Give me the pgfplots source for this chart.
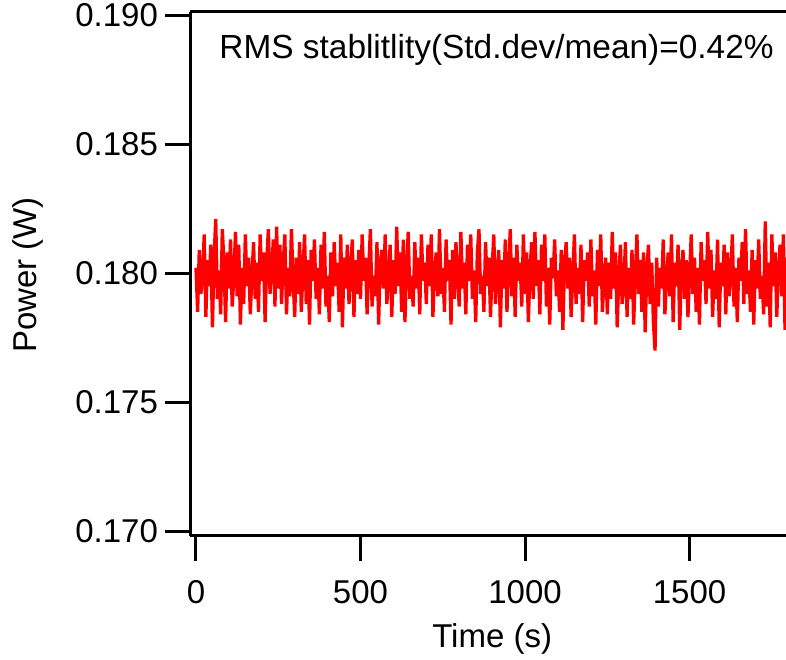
\documentclass[border=0pt]{standalone}
\usepackage{fontspec}
\setmainfont{Liberation Sans}
\usepackage{pgfplots}
\pgfplotsset{compat=1.18}
\newcommand{\lbl}{\fontsize{16.5}{20}\selectfont}
\begin{document}
\begin{tikzpicture}
\begin{axis}[
  scale only axis,
  width=298pt, height=262pt,
  xmin=-18.2, xmax=1793,
  ymin=0.16981, ymax=0.19012,
  axis x line*=bottom, axis y line*=left,
  axis line style={-, line width=1.5pt},
  every tick/.style={line width=1.5pt, black},
  tick align=outside,
  major tick length=12.5pt,
  xtick={0,500,1000,1500},
  ytick={0.170,0.175,0.180,0.185,0.190},
  minor tick num=0,
  yticklabel style={/pgf/number format/fixed,/pgf/number format/precision=3,/pgf/number format/fixed zerofill},
  xticklabel style={/pgf/number format/1000 sep={}, yshift=-6pt},
  /pgf/number format/assume math mode=true,
  scaled y ticks=false,
  tick label style={font=\lbl},
  label style={font=\lbl},
  xlabel={Time (s)},
  xlabel style={at={(rel axis cs:0.507,0)}, anchor=center, yshift=-51.5pt},
  clip=true,
]
\coordinate (sw) at (rel axis cs:0,0);
\coordinate (ne) at (rel axis cs:1,1);
\coordinate (wl) at (rel axis cs:0,0.5);
\addplot[color=red, line width=1.65pt, mark=none, line join=miter, miter limit=2] coordinates {
(0,.1802)(5,.1785)(10,.1809)(15,.1792)(20,.1799)(25,.1815)(30,.1783)(35,.1805)(40,.1795)(45,.1811)(50,.1779)(55,.1806)(60,.1821)(65,.1790)(70,.1801)(75,.1784)(80,.1817)(85,.1804)(90,.1781)(95,.1808)
(100,.1794)(105,.1813)(110,.1787)(115,.1798)(120,.1816)(125,.1791)(130,.1811)(135,.1780)(140,.1802)(145,.1788)(150,.1815)(155,.1795)(160,.1806)(165,.1784)(170,.1799)(175,.1812)(180,.1790)(185,.1804)(190,.1785)(195,.1815)
(200,.1797)(205,.1808)(210,.1781)(215,.1805)(220,.1817)(225,.1792)(230,.1801)(235,.1813)(240,.1787)(245,.1818)(250,.1794)(255,.1811)(260,.1788)(265,.1804)(270,.1815)(275,.1784)(280,.1802)(285,.1791)(290,.1817)(295,.1798)
(300,.1783)(305,.1806)(310,.1792)(315,.1812)(320,.1785)(325,.1801)(330,.1815)(335,.1788)(340,.1805)(345,.1780)(350,.1809)(355,.1797)(360,.1813)(365,.1790)(370,.1802)(375,.1784)(380,.1811)(385,.1794)(390,.1816)(395,.1787)
(400,.1799)(405,.1781)(410,.1808)(415,.1791)(420,.1812)(425,.1795)(430,.1804)(435,.1785)(440,.1815)(445,.1779)(450,.1806)(455,.1794)(460,.1811)(465,.1788)(470,.1801)(475,.1813)(480,.1783)(485,.1805)(490,.1792)(495,.1809)
(500,.1790)(505,.1815)(510,.1797)(515,.1806)(520,.1784)(525,.1802)(530,.1817)(535,.1787)(540,.1799)(545,.1791)(550,.1812)(555,.1780)(560,.1804)(565,.1809)(570,.1794)(575,.1815)(580,.1788)(585,.1798)(590,.1811)(595,.1783)
(600,.1805)(605,.1792)(610,.1818)(615,.1795)(620,.1808)(625,.1785)(630,.1813)(635,.1781)(640,.1802)(645,.1816)(650,.1790)(655,.1799)(660,.1787)(665,.1812)(670,.1794)(675,.1806)(680,.1784)(685,.1815)(690,.1797)(695,.1804)
(700,.1788)(705,.1811)(710,.1795)(715,.1815)(720,.1783)(725,.1801)(730,.1808)(735,.1791)(740,.1817)(745,.1792)(750,.1802)(755,.1785)(760,.1813)(765,.1797)(770,.1805)(775,.1780)(780,.1809)(785,.1790)(790,.1812)(795,.1798)
(800,.1787)(805,.1816)(810,.1794)(815,.1804)(820,.1784)(825,.1811)(830,.1797)(835,.1815)(840,.1790)(845,.1801)(850,.1781)(855,.1808)(860,.1817)(865,.1792)(870,.1799)(875,.1785)(880,.1812)(885,.1795)(890,.1806)(895,.1783)
(900,.1802)(905,.1815)(910,.1788)(915,.1798)(920,.1809)(925,.1779)(930,.1805)(935,.1794)(940,.1813)(945,.1785)(950,.1801)(955,.1817)(960,.1791)(965,.1806)(970,.1783)(975,.1811)(980,.1797)(985,.1804)(990,.1787)(995,.1815)
(1000,.1792)(1005,.1808)(1010,.1781)(1015,.1801)(1020,.1812)(1025,.1790)(1030,.1816)(1035,.1795)(1040,.1805)(1045,.1784)(1050,.1811)(1055,.1797)(1060,.1815)(1065,.1787)(1070,.1802)(1075,.1780)(1080,.1806)(1085,.1798)(1090,.1813)(1095,.1791)
(1100,.1801)(1105,.1785)(1110,.1809)(1115,.1778)(1120,.1804)(1125,.1812)(1130,.1794)(1135,.1806)(1140,.1783)(1145,.1799)(1150,.1815)(1155,.1788)(1160,.1802)(1165,.1792)(1170,.1811)(1175,.1781)(1180,.1805)(1185,.1797)(1190,.1808)(1195,.1787)
(1200,.1813)(1205,.1791)(1210,.1801)(1215,.1780)(1220,.1809)(1225,.1795)(1230,.1815)(1235,.1785)(1240,.1798)(1245,.1806)(1250,.1784)(1255,.1804)(1260,.1790)(1265,.1816)(1270,.1794)(1275,.1808)(1280,.1779)(1285,.1799)(1290,.1811)(1295,.1788)
(1300,.1795)(1305,.1812)(1310,.1783)(1315,.1802)(1320,.1790)(1325,.1809)(1330,.1780)(1335,.1799)(1340,.1815)(1345,.1792)(1350,.1805)(1355,.1785)(1360,.1808)(1365,.1777)(1370,.1801)(1375,.1811)(1380,.1788)(1385,.1804)(1390,.1781)(1395,.1770)
(1400,.1806)(1405,.1787)(1410,.1802)(1415,.1794)(1420,.1813)(1425,.1784)(1430,.1798)(1435,.1808)(1440,.1791)(1445,.1815)(1450,.1781)(1455,.1804)(1460,.1795)(1465,.1811)(1470,.1778)(1475,.1801)(1480,.1809)(1485,.1790)(1490,.1805)(1495,.1783)
(1500,.1799)(1505,.1815)(1510,.1792)(1515,.1806)(1520,.1785)(1525,.1802)(1530,.1780)(1535,.1812)(1540,.1797)(1545,.1805)(1550,.1788)(1555,.1816)(1560,.1794)(1565,.1809)(1570,.1783)(1575,.1801)(1580,.1790)(1585,.1813)(1590,.1779)(1595,.1804)
(1600,.1795)(1605,.1811)(1610,.1784)(1615,.1808)(1620,.1791)(1625,.1799)(1630,.1815)(1635,.1787)(1640,.1802)(1645,.1781)(1650,.1806)(1655,.1797)(1660,.1812)(1665,.1788)(1670,.1817)(1675,.1792)(1680,.1801)(1685,.1785)(1690,.1809)(1695,.1780)
(1700,.1805)(1705,.1794)(1710,.1813)(1715,.1790)(1720,.1799)(1725,.1784)(1730,.1820)(1735,.1787)(1740,.1804)(1745,.1779)(1750,.1815)(1755,.1795)(1760,.1808)(1765,.1783)(1770,.1802)(1775,.1811)(1780,.1791)(1785,.1815)(1790,.1778)(1795,.1806)
};
\node[anchor=east, font=\fontsize{16.7}{20}\selectfont, inner sep=0pt] at ([xshift=-6pt,yshift=-19pt]rel axis cs:1,1) {RMS stablitlity(Std.dev/mean)=0.42\%};
\end{axis}
\draw[line width=1.5pt] (sw |- ne) -- (ne);
\node[rotate=90, font=\lbl, anchor=center] at ([xshift=-81pt,yshift=-0.5pt]wl) {Power (W)};
\pgfresetboundingbox
\useasboundingbox ([xshift=-95pt,yshift=-62pt]sw) rectangle ([yshift=6pt]ne);
\end{tikzpicture}
\end{document}
